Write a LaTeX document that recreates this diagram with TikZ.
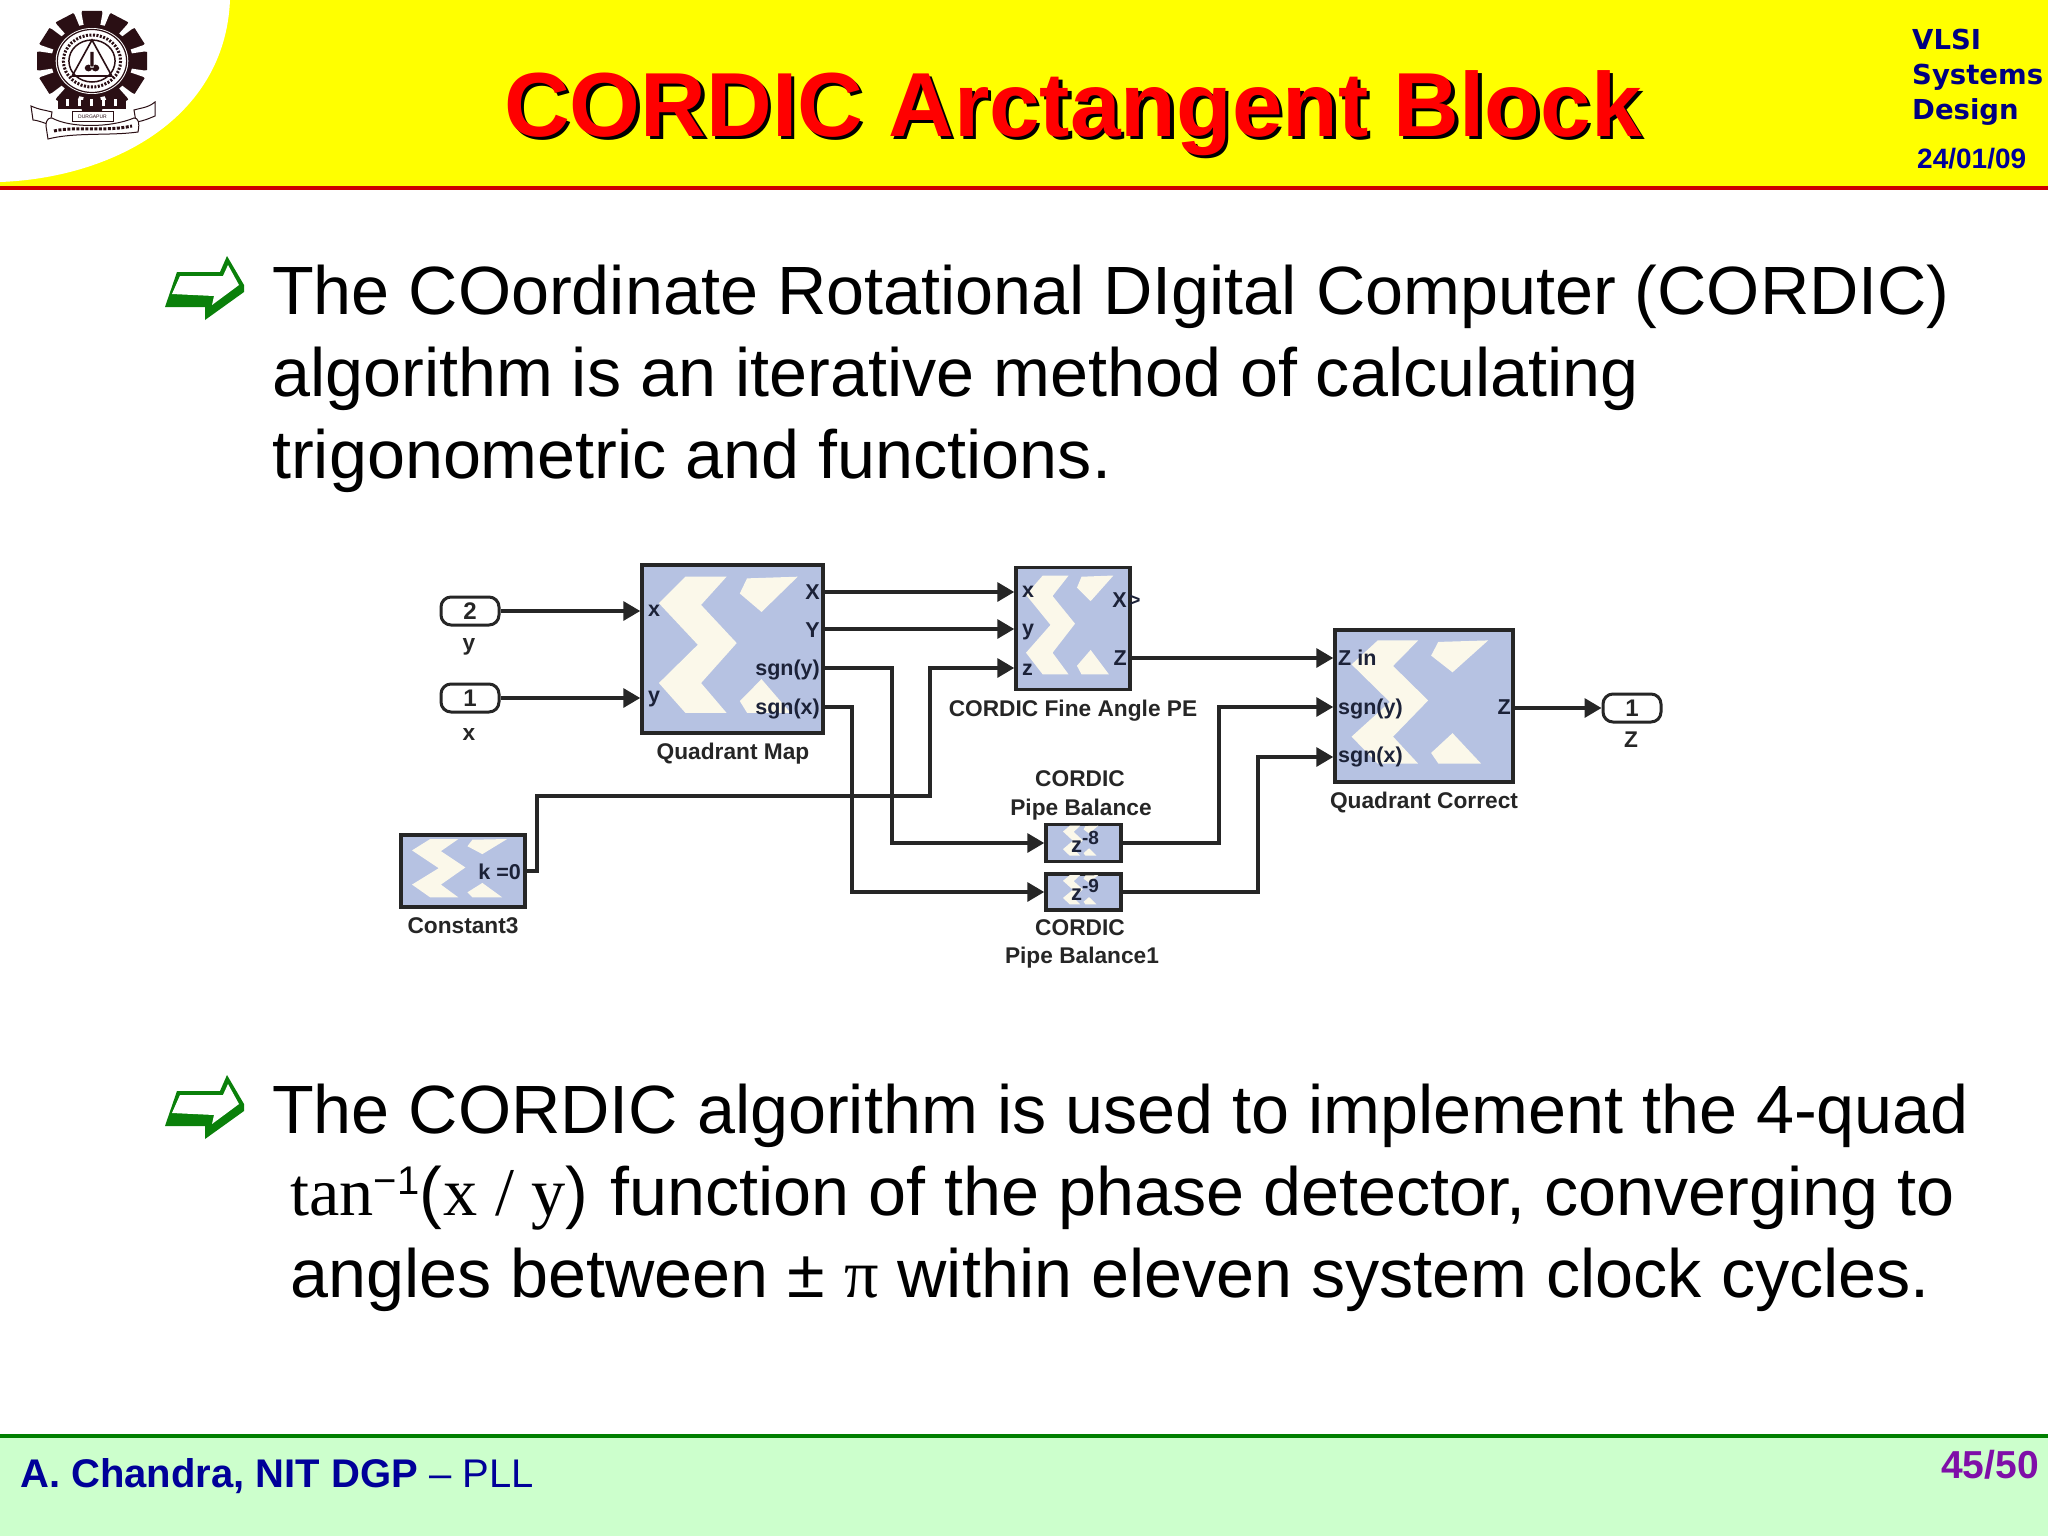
\documentclass[tikz,border=0pt]{standalone}
\usepackage{fontspec}
\setmainfont{Liberation Sans}
\newfontfamily\serifcmd{Liberation Serif}
\newfontfamily\dejav{DejaVu Sans}
\usetikzlibrary{arrows.meta,calc}
\definecolor{hdyellow}{HTML}{FFFF00}
\definecolor{hdred}{HTML}{CC0000}
\definecolor{ftgreen}{HTML}{CCFFCC}
\definecolor{ftline}{HTML}{008000}
\definecolor{navy}{HTML}{000099}
\definecolor{vnavy}{HTML}{000080}
\definecolor{purp}{HTML}{7F0FA8}
\definecolor{blk}{HTML}{B6C2E2}
\definecolor{cream}{HTML}{FBF8EA}
\definecolor{wirec}{HTML}{262626}
\definecolor{emb}{HTML}{2A0F14}
\definecolor{bgreen}{HTML}{0A800A}
\definecolor{porttx}{HTML}{1C2238}
\tikzset{
  bodytxt/.style={anchor=base west,inner sep=0pt,font=\fontsize{68.3}{68}\selectfont,text=black},
  block/.style={draw=wirec,line width=3.5pt,fill=blk,inner sep=0pt,minimum width=#1},
  pill/.style={draw=wirec,line width=3pt,fill=white,rounded corners=10pt,inner sep=0pt,minimum width=58pt,minimum height=28pt,font=\fontsize{24}{24}\selectfont\bfseries,text=wirec},
  lbl/.style={inner sep=0pt,font=\fontsize{22.7}{24}\selectfont\bfseries,text=wirec,align=center},
  port/.style={inner sep=0pt,font=\fontsize{21.5}{21}\selectfont\bfseries,text=porttx},
  wire/.style={draw=wirec,line width=3.4pt,-{Triangle[length=17pt,width=19pt]}},
}
\newcommand{\xlogoat}[3]{%
  \begin{scope}[shift={#1},x=#2pt,y=-#3pt]
    \fill[cream] (0.25,0.08)--(0.477,0.08)--(0.336,0.248)--(0.533,0.475)--(0.336,0.713)--(0.477,0.891)--(0.25,0.891)--(0.103,0.713)--(0.318,0.485)--(0.103,0.238)--cycle;
    \fill[cream] (0.55,0.18)--(0.59,0.09)--(0.87,0.08)--(0.67,0.29)--cycle;
    \fill[cream] (0.55,0.82)--(0.67,0.69)--(0.83,0.89)--(0.59,0.89)--cycle;
  \end{scope}}
\newcommand{\bulletarrow}[1]{%
  \begin{scope}[shift={(0,#1)}]
    \fill[bgreen] (165,307)--(177,272)--(220,272)--(227,256)--(244,285)--(244,292)--(205,320)--(205,307)--cycle;
    \fill[white] (172,294)--(180,276)--(223,276)--(228,265)--(239,285)--(212,305)--(214,296)--cycle;
  \end{scope}}
\begin{document}
\begin{tikzpicture}[x=1pt,y=-1pt]
\useasboundingbox (0,0) rectangle (2048,1536);
\fill[white] (0,0) rectangle (2048,1536);
% header
\fill[hdyellow] (0,0) rectangle (2048,186);
\fill[white] (0,0) -- (230,0) .. controls (225,120) and (110,178) .. (0,182) -- cycle;
\fill[hdred] (0,185.5) rectangle (2048,190);
% emblem
\begin{scope}[shift={(92,61)},xscale=1.1]
  \fill[emb] (0,0) circle (47);
  \foreach \a in {0,30,...,330}{\fill[emb,rotate=\a] (-9,-50)--(9,-50)--(12,-40)--(-12,-40)--cycle;}
  \foreach \a in {15,45,...,345}{\fill[white,rotate=\a] (-3.5,-52)--(3.5,-52)--(2,-37)--(-2,-37)--cycle;}
  \fill[white] (0,0) circle (33);
  \draw[emb,line width=1.2pt] (0,0) circle (31.5);
  \draw[emb,line width=1.5pt] (0,0) circle (21);
  \draw[emb,line width=3pt,dash pattern=on 2pt off 1.5pt] (0,0) circle (26);
  \draw[emb,line width=1.6pt] (0,-21)--(18,15)--(-18,15)--cycle;
  \fill[emb] (-3.2,7) circle (3.4) (3.2,7) circle (3.4) (-1.5,-9) rectangle (1.5,7);
\end{scope}
\fill[emb] (58,100) rectangle (126,109);
\foreach \xx in {66,78,90,102,114}{\fill[white] (\xx,99) rectangle (\xx+3,106);}
\draw[emb,line width=1pt,fill=white] (72,112) rectangle (113,122);
\node[inner sep=0pt,font=\fontsize{5}{5}\selectfont,text=emb] (dgp) at (92.5,117) {DURGAPUR};
\draw[emb,line width=1pt,fill=white] (31,106) .. controls (40,110) and (45,110) .. (52,112) -- (50,125) .. controls (42,122) and (36,120) .. (33,120) -- cycle;
\draw[emb,line width=1pt,fill=white] (155,102) .. controls (148,108) and (140,108) .. (134,110) -- (136,122) .. controls (144,121) and (150,118) .. (155,116) -- cycle;
\draw[emb,line width=1pt,fill=white] (46,126) .. controls (46,118) and (50,118) .. (52,118) .. controls (70,128) and (110,128) .. (134,118) .. controls (138,118) and (140,122) .. (138,132) .. controls (110,136) and (75,132) .. (48,139) -- cycle;
\draw[emb,line width=3pt,dash pattern=on 3pt off 1.5pt] (54,131) .. controls (75,126) and (105,132) .. (132,126);
% title
\node[anchor=base,inner sep=0pt,font=\fontsize{91}{91}\selectfont\bfseries,text=black] (titleS) at (1076.5,139.5) {CORDIC Arctangent Block};
\node[anchor=base,inner sep=0pt,font=\fontsize{91}{91}\selectfont\bfseries,text=red] (title) at (1073,136) {CORDIC Arctangent Block};
% corner
\node[anchor=base west,inner sep=0pt,font=\dejav\fontsize{27.5}{27.5}\selectfont\bfseries,text=vnavy] (c1) at (1912,50) {VLSI};
\node[anchor=base west,inner sep=0pt,font=\dejav\fontsize{27.5}{27.5}\selectfont\bfseries,text=vnavy] (c2) at (1912,85) {Systems};
\node[anchor=base west,inner sep=0pt,font=\dejav\fontsize{27.5}{27.5}\selectfont\bfseries,text=vnavy] (c3) at (1912,120) {Design};
\node[anchor=base west,inner sep=0pt,font=\fontsize{28}{28}\selectfont\bfseries,text=navy] (c4) at (1917,168) {24/01/09};
% bullets
\bulletarrow{0}
\bulletarrow{819}
% body
\node[bodytxt] (a1) at (272,314) {The COordinate Rotational DIgital Computer (CORDIC)};
\node[bodytxt] (a2) at (272,396) {algorithm is an iterative method of calculating};
\node[bodytxt] (a3) at (272,478) {trigonometric and functions.};
\node[bodytxt] (b1) at (272,1133) {The CORDIC algorithm is used to implement the 4-quad};
\node[bodytxt] (b2) at (290,1215) {{\serifcmd tan}\raisebox{0.3em}{\fontsize{40}{40}\selectfont −1}(\hspace{2pt}{\serifcmd x / y})\hspace{3pt} function of the phase detector, converging to};
\node[bodytxt] (b3) at (290,1297) {angles between ± {\serifcmd π} within eleven system clock cycles.};
% rows
\coordinate (rX) at (0,592);
\coordinate (rY) at (0,629);
\coordinate (rS) at (0,668);
\coordinate (rT) at (0,707);
\coordinate (rZ) at (0,658);
\coordinate (rC) at (0,757);
\coordinate (vA) at (892,0);
\coordinate (vB) at (852,0);
\coordinate (vC) at (537,796);
\coordinate (vD) at (930,796);
\coordinate (vE) at (1219,0);
\coordinate (vF) at (1258,0);
% blocks
\node[block=181pt,minimum height=168pt] (qm) at (732.5,649) {};
\node[block=114pt,minimum height=122pt] (fa) at (1073,628.5) {};
\node[block=178pt,minimum height=152pt] (qc) at (1424,706) {};
\node[block=124pt,minimum height=72pt] (k0) at (463,871) {};
\node[block=75pt,minimum height=37pt] (p8) at (1083.5,843) {};
\node[block=75pt,minimum height=36pt] (p9) at (1083.5,892) {};
\xlogoat{(qm.north west)}{181}{168}
\xlogoat{(fa.north west)}{114}{122}
\xlogoat{(qc.north west)}{178}{152}
\xlogoat{(k0.north west)}{124}{72}
\xlogoat{($(p8.north west)+(14,0)$)}{46}{37}
\xlogoat{($(p9.north west)+(14,0)$)}{46}{36}
% pills
\node[pill] (iy) at (470,611) {2};
\node[pill] (ix) at (470,698) {1};
\node[pill] (oz) at (1632,708) {1};
% labels
\node[lbl] (ly) at (469,647) {y};
\node[lbl] (lx) at (469,734) {x};
\node[lbl] (lz) at (1631,740) {Z};
\node[lbl] (lqm) at (733,754) {Quadrant Map};
\node[lbl] (lfa) at (1073,711) {CORDIC Fine Angle PE};
\node[lbl] (lqc) at (1424,803) {Quadrant Correct};
\node[lbl] (lk0) at (463,926) {Constant3};
\node[lbl] (l8a) at (1080,779) {CORDIC};
\node[lbl] (l8b) at (1081,810) {Pipe Balance};
\node[lbl] (l9a) at (1080,928) {CORDIC};
\node[lbl] (l9b) at (1082,958) {Pipe Balance1};
% ports
\node[port,anchor=west] (qmx) at (648,611) {x};
\node[port,anchor=west] (qmy) at (648,699) {y};
\node[port,anchor=east] (qmX) at (820,592) {X};
\node[port,anchor=east] (qmY) at (820,630) {Y};
\node[port,anchor=east] (qmS) at (820,670) {sgn(y)};
\node[port,anchor=east] (qmT) at (820,709) {sgn(x)};
\node[port,anchor=west] (fax) at (1022,592) {x};
\node[port,anchor=west] (fay) at (1022,632) {y};
\node[port,anchor=west] (faz) at (1022,670) {z};
\node[port,anchor=east] (faX) at (1127,600) {X};
\node[port,font=\fontsize{19}{19}\selectfont\bfseries] (faG) at (1135,601) {>};
\node[port,anchor=east] (faZ) at (1127,658) {Z};
\node[port,anchor=west] (qcz) at (1338,658) {Z in};
\node[port,anchor=west] (qcy) at (1338,709) {sgn(y)};
\node[port,anchor=west] (qcx) at (1338,757) {sgn(x)};
\node[port,anchor=east] (qcZ) at (1511,707) {Z};
\node[port,anchor=east] (k0t) at (521,872) {k =0};
\node[port,font=\fontsize{22}{22}\selectfont\bfseries] (p8t) at (1085,842) {z\raisebox{0.35em}{\fontsize{19}{19}\selectfont -8}};
\node[port,font=\fontsize{22}{22}\selectfont\bfseries] (p9t) at (1085,890) {z\raisebox{0.35em}{\fontsize{19}{19}\selectfont -9}};
% wires
\draw[wire] (iy.east) -- (iy.east -| qm.west);
\draw[wire] (ix.east) -- (ix.east -| qm.west);
\draw[wire] (qm.east |- rX) -- (fa.west |- rX);
\draw[wire] (qm.east |- rY) -- (fa.west |- rY);
\draw[wire] (qm.east |- rS) -- (vA |- rS) -- (vA |- p8.west) -- (p8.west);
\draw[wire] (qm.east |- rT) -- (vB |- rT) -- (vB |- p9.west) -- (p9.west);
\draw[wire] (k0.east) -- (vC |- k0.east) -- (vC) -- (vD) -- (vD |- rS) -- (fa.west |- rS);
\draw[wire] (fa.east |- rZ) -- (qc.west |- rZ);
\draw[wire] (p8.east) -- (vE |- p8.east) -- (vE |- rT) -- (qc.west |- rT);
\draw[wire] (p9.east) -- (vF |- p9.east) -- (vF |- rC) -- (qc.west |- rC);
\draw[wire] (qc.east |- oz.west) -- (oz.west);
% footer
\fill[ftgreen] (0,1437) rectangle (2048,1536);
\fill[ftline] (0,1434) rectangle (2048,1438);
\node[anchor=base west,inner sep=0pt,font=\fontsize{40}{40}\selectfont,text=navy] (ft) at (20,1487) {\textbf{A. Chandra, NIT DGP} – PLL};
\node[anchor=base east,inner sep=0pt,font=\fontsize{39}{39}\selectfont\bfseries,text=purp] (pg) at (2039,1478) {45/50};
\end{tikzpicture}
\end{document}
